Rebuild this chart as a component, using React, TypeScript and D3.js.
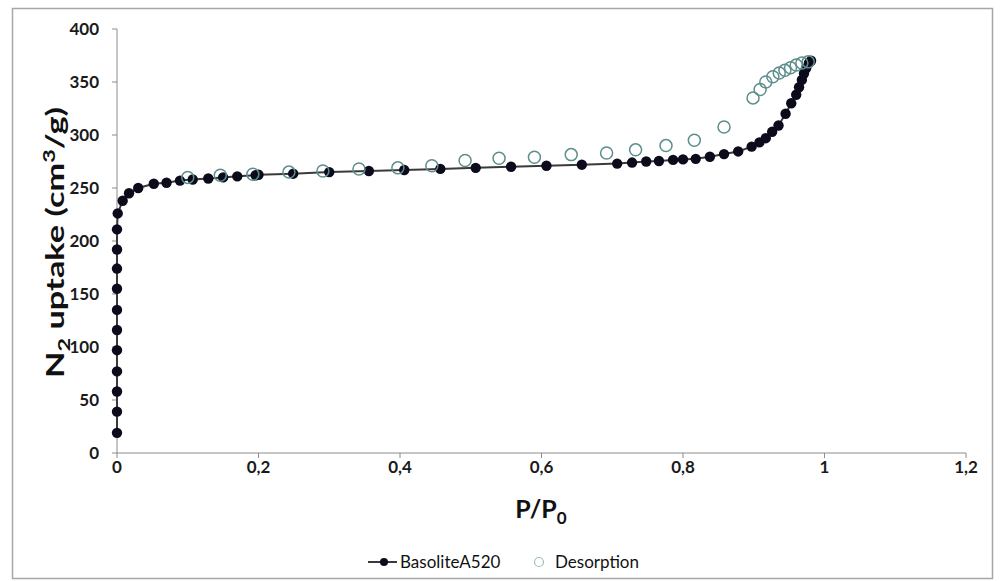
import React from "react";
import * as d3 from "d3";

const adsX = [0, 0, 0, 0, 0, 0, 0, 0, 0, 0, 0, 0.001, 0.008, 0.017, 0.03, 0.052, 0.07, 0.089, 0.107, 0.129, 0.15, 0.17, 0.196, 0.2, 0.249, 0.3, 0.356, 0.406, 0.457, 0.507, 0.557, 0.607, 0.657, 0.707, 0.728, 0.748, 0.766, 0.786, 0.8, 0.818, 0.838, 0.858, 0.878, 0.897, 0.908, 0.917, 0.926, 0.935, 0.945, 0.953, 0.96, 0.964, 0.968, 0.971, 0.974, 0.978, 0.981];
const adsY = [19, 39, 58, 77, 97, 116, 135, 155, 174, 192, 211, 226, 238, 245, 250, 254, 255, 257, 258, 259, 260, 261, 262, 262.5, 263.5, 265, 266, 267, 268, 269, 270, 271, 272, 273, 274, 275, 275.5, 276.5, 277, 277.5, 279.5, 282, 284.5, 289, 293, 297, 303, 309, 320, 330, 338, 345, 352, 358, 363, 368, 370];

const desX = [0.1, 0.146, 0.192, 0.243, 0.291, 0.342, 0.397, 0.445, 0.492, 0.54, 0.59, 0.642, 0.692, 0.733, 0.776, 0.816, 0.858, 0.899, 0.909, 0.917, 0.927, 0.936, 0.944, 0.952, 0.96, 0.968, 0.977];
const desY = [260, 262, 263, 265, 266, 268, 269, 271, 276, 278, 279, 281.5, 283, 286, 290, 295, 307.5, 335, 343, 350, 355, 358.5, 361, 363.5, 366, 368, 369];

const xTicks = [0, 0.2, 0.4, 0.6, 0.8, 1, 1.2];
const yTicks = [0, 50, 100, 150, 200, 250, 300, 350, 400];
const seriesNames = ["BasoliteA520", "Desorption"];

const W = 1001;
const H = 581;
const FONT = "Lato, 'Open Sans', sans-serif";

export default function App() {
  const x = d3.scaleLinear().domain([0, 1.2]).range([117, 966]);
  const y = d3.scaleLinear().domain([0, 400]).range([453, 29]);
  const ads = adsX.map((v, i) => [v, adsY[i]] as [number, number]);
  const des = desX.map((v, i) => [v, desY[i]] as [number, number]);
  const line = d3.line<[number, number]>().x(d => x(d[0])).y(d => y(d[1]));
  const fmt = (v: number) => String(v).replace(".", ",");
  const axisColor = "#8c8c8c";
  const dotColor = "#0b0b1c";
  const circColor = "#5e8e8c";

  return (
    <svg width={W} height={H} style={{ position: "absolute", left: 0, top: 0, display: "block" }} fontFamily={FONT}>
      <rect x={0} y={0} width={W} height={H} fill="#fff" />
      <rect x={12.5} y={8.5} width={980} height={570} fill="none" stroke="#a6a6a6" strokeWidth={1.5} />
      {/* axes */}
      <line x1={x(0)} x2={x(1.2)} y1={y(0)} y2={y(0)} stroke={axisColor} strokeWidth={1} />
      <line x1={x(0)} x2={x(0)} y1={y(0)} y2={y(400)} stroke={axisColor} strokeWidth={1} />
      {yTicks.map(t => (
        <g key={"y" + t}>
          <line x1={x(0) - 5} x2={x(0)} y1={y(t)} y2={y(t)} stroke={axisColor} />
          <text x={99} y={y(t)} dy="0.36em" textAnchor="end" fontSize={17} fontWeight={700} fill="#1a1a1a">{t}</text>
        </g>
      ))}
      {xTicks.map(t => (
        <g key={"x" + t}>
          <line x1={x(t)} x2={x(t)} y1={y(0)} y2={y(0) + 5} stroke={axisColor} />
          <text x={x(t)} y={473} textAnchor="middle" fontSize={17} fontWeight={700} fill="#1a1a1a">{fmt(t)}</text>
        </g>
      ))}
      {/* adsorption */}
      <path d={line(ads) || ""} fill="none" stroke="#3a3a3a" strokeWidth={2} />
      {ads.map((d, i) => (
        <circle key={"a" + i} cx={x(d[0])} cy={y(d[1])} r={5.2} fill={dotColor} />
      ))}
      {/* desorption */}
      {des.map((d, i) => (
        <circle key={"d" + i} cx={x(d[0])} cy={y(d[1])} r={6} fill="none" stroke={circColor} strokeWidth={1.5} />
      ))}
      {/* axis titles */}
      <text transform="translate(64,242.5) rotate(-90)" textAnchor="middle" fontSize={25} fontWeight={700} fill="#111"
        textLength={271} lengthAdjust="spacingAndGlyphs">
        N<tspan fontSize={17} dy={6}>2</tspan><tspan dy={-6}> uptake (cm</tspan><tspan fontSize={17} dy={-9}>3</tspan><tspan dy={9}>/g)</tspan>
      </text>
      <text x={541} y={518} textAnchor="middle" fontSize={25} fontWeight={700} fill="#111">
        P/P<tspan fontSize={17} dy={6}>0</tspan>
      </text>
      {/* legend */}
      <line x1={368} x2={397} y1={562} y2={562} stroke="#3a3a3a" strokeWidth={2} />
      <circle cx={384} cy={562} r={4} fill={dotColor} />
      <text x={400} y={562} dy="0.36em" fontSize={17} fill="#111">{seriesNames[0]}</text>
      <circle cx={539} cy={562} r={4.5} fill="none" stroke="#9fbfbd" strokeWidth={1.2} />
      <text x={555} y={562} dy="0.36em" fontSize={17} fill="#111">{seriesNames[1]}</text>
    </svg>
  );
}
